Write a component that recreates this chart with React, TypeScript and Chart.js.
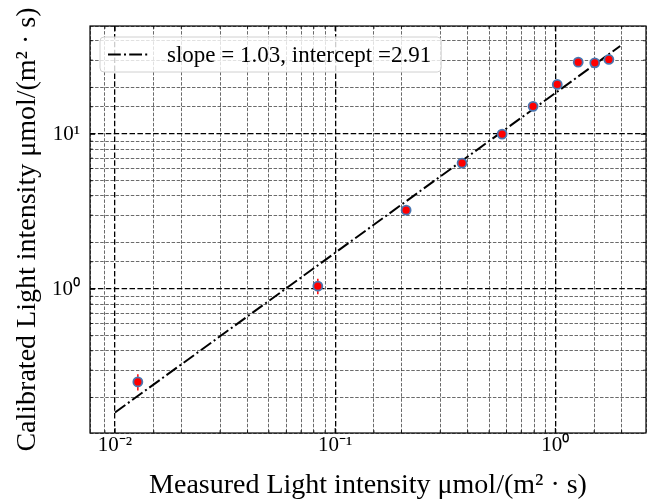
import React, { useEffect, useRef } from 'react';
import { Chart, registerables } from 'chart.js';

Chart.register(...registerables);

// ---- data ----
const measuredX = [0.0127, 0.0834, 0.21, 0.377, 0.573, 0.792, 1.02, 1.27, 1.51, 1.75];
const calibratedY = [0.252, 1.045, 3.23, 6.5, 10.0, 15.1, 20.9, 29.1, 28.8, 30.3];
const calibratedErr = [0.03, 0.12, 0.12, 0.2, 0.3, 0.4, 0.5, 0.6, 0.6, 0.6];
const fitX = [0.01, 1.97];
const fitY = [0.16, 37.0];
const fitLabel = 'slope = 1.03, intercept =2.91';
const xTickValues = [0.01, 0.1, 1];
const xTickLabels = ['10⁻²', '10⁻¹', '10⁰'];
const yTickValues = [1, 10];
const yTickLabels = ['10⁰', '10¹'];
const xRange = [0.0077, 2.58];
const yRange = [0.118, 49.8];
const xTitle = 'Measured Light intensity μmol/(m² · s)';
const yTitle = 'Calibrated Light intensity μmol/(m² · s)';

const FONT = '"Liberation Serif", "Times New Roman", serif';

const isMajor = (v: number) => {
  const l = Math.log10(v);
  return Math.abs(l - Math.round(l)) < 1e-9;
};

const labelFor = (values: number[], labels: string[]) => (v: number | string) => {
  const n = Number(v);
  const i = values.findIndex((t) => Math.abs(Math.log10(t) - Math.log10(n)) < 1e-9);
  return i >= 0 ? labels[i] : '';
};

const gridColor = (c: any) => (c.tick && isMajor(c.tick.value) ? '#000000' : 'rgba(60,60,60,0.85)');
const gridWidth = (c: any) => (c.tick && isMajor(c.tick.value) ? 1.3 : 0.9);
const gridDash = (c: any) => (c.tick && isMajor(c.tick.value) ? [5.5, 2.4] : [3.5, 1.6]);

const errorBarPlugin = {
  id: 'errorBars',
  beforeDatasetsDraw(chart: any) {
    const { ctx, scales } = chart;
    const { x, y } = scales;
    ctx.save();
    ctx.strokeStyle = '#ff0000';
    ctx.lineWidth = 1.5;
    measuredX.forEach((mx, i) => {
      const px = x.getPixelForValue(mx);
      const top = y.getPixelForValue(calibratedY[i] + calibratedErr[i]);
      const bot = y.getPixelForValue(calibratedY[i] - calibratedErr[i]);
      ctx.beginPath();
      ctx.moveTo(px, top);
      ctx.lineTo(px, bot);
      ctx.stroke();
    });
    ctx.restore();
  },
};

const framePlugin = {
  id: 'frame',
  afterDatasetsDraw(chart: any) {
    const { ctx, chartArea: a, scales } = chart;
    ctx.save();
    ctx.strokeStyle = '#000';
    scales.x.ticks.forEach((t: any) => {
      if (t.value <= xRange[0] || t.value >= xRange[1]) return;
      const p = scales.x.getPixelForValue(t.value);
      const major = isMajor(t.value);
      const len = major ? 5 : 2.8;
      ctx.lineWidth = major ? 1.1 : 0.8;
      ctx.beginPath();
      ctx.moveTo(p, a.bottom);
      ctx.lineTo(p, a.bottom - len);
      ctx.moveTo(p, a.top);
      ctx.lineTo(p, a.top + len);
      ctx.stroke();
    });
    scales.y.ticks.forEach((t: any) => {
      if (t.value <= yRange[0] || t.value >= yRange[1]) return;
      const p = scales.y.getPixelForValue(t.value);
      const major = isMajor(t.value);
      const len = major ? 5 : 2.8;
      ctx.lineWidth = major ? 1.1 : 0.8;
      ctx.beginPath();
      ctx.moveTo(a.left, p);
      ctx.lineTo(a.left + len, p);
      ctx.moveTo(a.right, p);
      ctx.lineTo(a.right - len, p);
      ctx.stroke();
    });
    ctx.lineWidth = 1.2;
    ctx.strokeRect(a.left, a.top, a.right - a.left, a.bottom - a.top);
    ctx.restore();
  },
};

const legendPlugin = {
  id: 'customLegend',
  afterDraw(chart: any) {
    const { ctx, chartArea: a } = chart;
    const ds = chart.data.datasets[1];
    ctx.save();
    ctx.font = `23px ${FONT}`;
    const tw = ctx.measureText(ds.label).width;
    const bx = a.left + 10;
    const by = a.top + 11;
    const bh = 35;
    const textX = bx + 67;
    const bw = textX - bx + tw + 10;
    const r = 4;
    ctx.beginPath();
    ctx.moveTo(bx + r, by);
    ctx.lineTo(bx + bw - r, by);
    ctx.arcTo(bx + bw, by, bx + bw, by + r, r);
    ctx.lineTo(bx + bw, by + bh - r);
    ctx.arcTo(bx + bw, by + bh, bx + bw - r, by + bh, r);
    ctx.lineTo(bx + r, by + bh);
    ctx.arcTo(bx, by + bh, bx, by + bh - r, r);
    ctx.lineTo(bx, by + r);
    ctx.arcTo(bx, by, bx + r, by, r);
    ctx.closePath();
    ctx.fillStyle = 'rgba(255,255,255,0.8)';
    ctx.fill();
    ctx.strokeStyle = '#d0d0d0';
    ctx.lineWidth = 1;
    ctx.stroke();
    const cy = by + bh / 2;
    ctx.strokeStyle = '#000';
    ctx.lineWidth = 2;
    ctx.setLineDash(ds.borderDash);
    ctx.beginPath();
    ctx.moveTo(bx + 8, cy);
    ctx.lineTo(bx + 50, cy);
    ctx.stroke();
    ctx.setLineDash([]);
    ctx.fillStyle = '#000';
    ctx.textBaseline = 'middle';
    ctx.textAlign = 'left';
    ctx.fillText(ds.label, textX, cy + 1);
    ctx.restore();
  },
};

export default function App() {
  const ref = useRef<HTMLCanvasElement | null>(null);

  useEffect(() => {
    document.body.style.margin = '0';
    const canvas = ref.current;
    if (!canvas) return;
    const chart = new Chart(canvas, {
      type: 'scatter',
      data: {
        datasets: [
          {
            label: 'Calibrated',
            data: measuredX.map((x, i) => ({ x, y: calibratedY[i] })),
            pointRadius: 4.5,
            pointBorderWidth: 1.8,
            pointBackgroundColor: '#ff0000',
            pointBorderColor: '#4a76b0',
            showLine: false,
            order: 0,
          },
          {
            label: fitLabel,
            data: fitX.map((x, i) => ({ x, y: fitY[i] })),
            showLine: true,
            borderColor: '#000000',
            borderWidth: 2,
            borderDash: [12.8, 3.2, 2, 3.2],
            pointRadius: 0,
            fill: false,
            order: 1,
          } as any,
        ],
      },
      options: {
        animation: false,
        responsive: false,
        devicePixelRatio: 1,
        layout: { padding: { top: 26, right: 16, left: 0, bottom: 0 } },
        plugins: {
          legend: { display: false },
          tooltip: { enabled: false },
        },
        scales: {
          x: {
            type: 'logarithmic',
            min: xRange[0],
            max: xRange[1],
            afterFit: (s: any) => {
              s.height = 69;
            },
            border: { display: false, dash: gridDash as any },
            grid: { color: gridColor, lineWidth: gridWidth, drawTicks: false },
            ticks: {
              autoSkip: false,
              maxRotation: 0,
              minRotation: 0,
              padding: 2,
              color: '#000',
              font: { family: FONT, size: 21, lineHeight: 1 },
              callback: labelFor(xTickValues, xTickLabels),
            },
            title: {
              display: true,
              text: xTitle,
              color: '#000',
              font: { family: FONT, size: 28, lineHeight: 1 },
              padding: { top: 0, bottom: 2.5 },
            },
          },
          y: {
            type: 'logarithmic',
            min: yRange[0],
            max: yRange[1],
            afterFit: (s: any) => {
              s.width = 90;
            },
            border: { display: false, dash: gridDash as any },
            grid: { color: gridColor, lineWidth: gridWidth, drawTicks: false },
            ticks: {
              autoSkip: false,
              padding: 10,
              color: '#000',
              font: { family: FONT, size: 21, lineHeight: 1 },
              callback: labelFor(yTickValues, yTickLabels),
            },
            title: {
              display: true,
              text: yTitle,
              color: '#000',
              font: { family: FONT, size: 28, lineHeight: 1 },
              padding: { top: 14, bottom: 0 },
            },
          },
        },
      },
      plugins: [errorBarPlugin, framePlugin, legendPlugin],
    } as any);
    return () => chart.destroy();
  }, []);

  return (
    <div style={{ position: 'absolute', left: 0, top: 0, width: 662, height: 502, background: '#fff' }}>
      <canvas ref={ref} width={662} height={502} style={{ display: 'block' }} />
    </div>
  );
}
